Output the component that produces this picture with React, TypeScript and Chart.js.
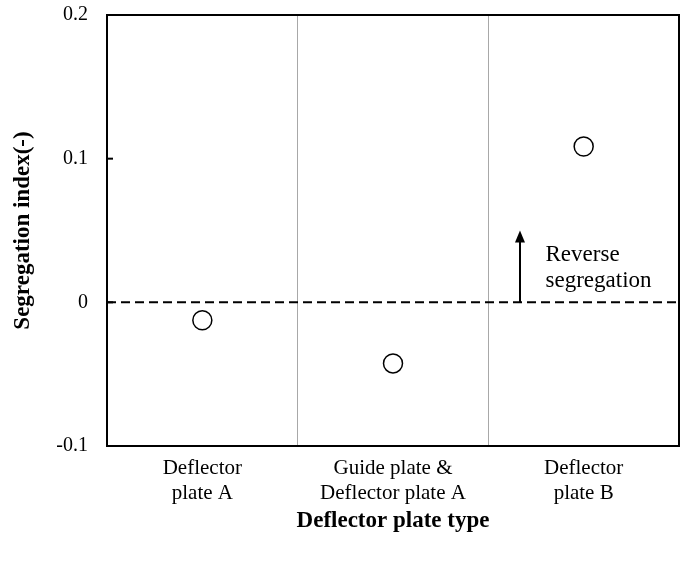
import React, { useEffect, useRef } from 'react';
import { Chart, registerables } from 'chart.js';

Chart.register(...registerables);

// ---- data ----
const categories: string[][] = [
  ['Deflector', 'plate A'],
  ['Guide plate &', 'Deflector plate A'],
  ['Deflector', 'plate B'],
];
const segregationIndex: number[] = [-0.0125, -0.0425, 0.1085];
const yTickLabels: string[] = ['-0.1', '0', '0.1', '0.2'];
const yMin = -0.1;
const yMax = 0.2;
const yStep = 0.1;
const xTitle = 'Deflector plate type';
const yTitle = 'Segregation index(-)';

// annotation (in data coordinates: category index / y value)
const annotationLines: string[] = ['Reverse', 'segregation'];
const arrowX = 1.666;
const arrowFrom = 0;
const arrowTo = 0.05;
const annotationTextX = 1.8;
const annotationTextY: number[] = [0.029, 0.011];
const innerTickValues: number[] = [0, 0.1];

const SERIF = "'Liberation Serif', 'Times New Roman', serif";

const overlayPlugin = {
  id: 'overlay',
  afterDatasetsDraw(chart: any) {
    const { ctx, chartArea: a, scales } = chart;
    const x = scales.x;
    const y = scales.y;
    ctx.save();
    ctx.strokeStyle = '#000';
    ctx.fillStyle = '#000';

    // zero dashed line
    const y0 = y.getPixelForValue(0);
    ctx.lineWidth = 2;
    ctx.setLineDash([9, 5]);
    ctx.beginPath();
    ctx.moveTo(a.left, y0);
    ctx.lineTo(a.right, y0);
    ctx.stroke();
    ctx.setLineDash([]);

    // inward tick marks on y axis
    ctx.lineWidth = 2;
    innerTickValues.forEach((v) => {
      const py = y.getPixelForValue(v);
      ctx.beginPath();
      ctx.moveTo(a.left, py);
      ctx.lineTo(a.left + 6, py);
      ctx.stroke();
    });

    // frame
    ctx.lineWidth = 2;
    ctx.strokeRect(a.left, a.top, a.right - a.left, a.bottom - a.top);

    // arrow
    const ax = x.getPixelForValue(arrowX);
    const ay0 = y.getPixelForValue(arrowFrom);
    const ay1 = y.getPixelForValue(arrowTo);
    const headLen = 12;
    const headHalf = 5;
    ctx.lineWidth = 2;
    ctx.beginPath();
    ctx.moveTo(ax, ay0);
    ctx.lineTo(ax, ay1 + headLen - 1);
    ctx.stroke();
    ctx.beginPath();
    ctx.moveTo(ax, ay1);
    ctx.lineTo(ax - headHalf, ay1 + headLen);
    ctx.lineTo(ax + headHalf, ay1 + headLen);
    ctx.closePath();
    ctx.fill();

    // annotation text
    ctx.font = `23px ${SERIF}`;
    ctx.textAlign = 'left';
    ctx.textBaseline = 'alphabetic';
    const tx = x.getPixelForValue(annotationTextX);
    annotationLines.forEach((line, i) => {
      ctx.fillText(line, tx, y.getPixelForValue(annotationTextY[i]));
    });

    ctx.restore();
  },
};

export default function App() {
  const canvasRef = useRef<HTMLCanvasElement | null>(null);

  useEffect(() => {
    if (!canvasRef.current) return;
    const chart = new Chart(canvasRef.current, {
      type: 'line',
      data: {
        labels: categories as any,
        datasets: [
          {
            data: segregationIndex,
            showLine: false,
            pointStyle: 'circle',
            pointRadius: 9.5,
            pointHoverRadius: 9.5,
            pointBorderWidth: 1.5,
            pointBackgroundColor: '#fff',
            pointBorderColor: '#000',
          },
        ],
      },
      options: {
        responsive: false,
        animation: false,
        devicePixelRatio: 1,
        layout: { autoPadding: false, padding: { left: 0, top: 15, right: 9, bottom: 0 } },
        plugins: {
          legend: { display: false },
          tooltip: { enabled: false },
        },
        events: [],
        scales: {
          x: {
            type: 'category',
            offset: true,
            border: { display: false },
            grid: {
              display: true,
              offset: true,
              drawTicks: false,
              color: '#a8a8a8',
              lineWidth: 1,
            },
            ticks: {
              color: '#000',
              font: { family: SERIF, size: 21, lineHeight: 1.2 },
              padding: 10,
              maxRotation: 0,
              autoSkip: false,
            },
            title: {
              display: true,
              text: xTitle,
              color: '#000',
              font: { family: SERIF, size: 23, weight: 'bold', lineHeight: 1.2 },
              padding: { top: 0, bottom: 28 },
            },
            afterFit: (scale: any) => {
              scale.height = 117;
              scale.paddingLeft = 0;
              scale.paddingRight = 0;
            },
          },
          y: {
            type: 'linear',
            min: yMin,
            max: yMax,
            border: { display: false },
            grid: { display: false, drawTicks: false },
            ticks: {
              stepSize: yStep,
              color: '#000',
              font: { family: SERIF, size: 20 },
              padding: 19,
              callback: (_v: any, i: number) => yTickLabels[i],
            },
            title: {
              display: true,
              text: yTitle,
              color: '#000',
              font: { family: SERIF, size: 23, weight: 'bold', lineHeight: 1.2 },
              padding: { top: 9, bottom: 0 },
            },
            afterFit: (scale: any) => {
              scale.width = 107;
              scale.paddingTop = 0;
              scale.paddingBottom = 0;
            },
          },
        },
      } as any,
      plugins: [overlayPlugin],
    });
    return () => chart.destroy();
  }, []);

  return (
    <div style={{ position: 'absolute', left: 0, top: 0, width: 688, height: 563, background: '#fff' }}>
      <canvas ref={canvasRef} width={688} height={563} style={{ width: 688, height: 563 }} />
    </div>
  );
}
